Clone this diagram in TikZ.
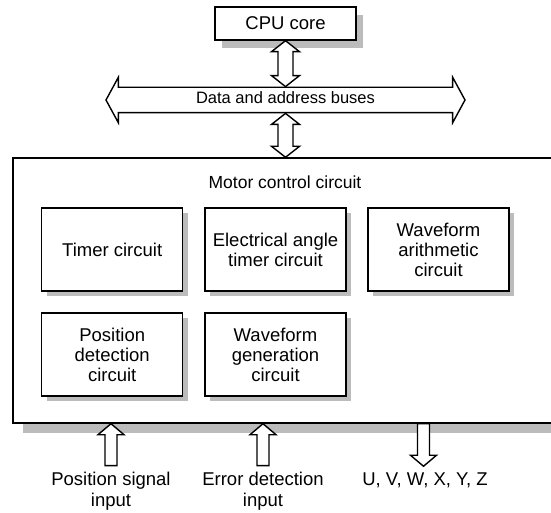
\documentclass[tikz,border=0pt]{standalone}
\usepackage{fontspec}
\setmainfont{Liberation Sans}
\usetikzlibrary{calc,shadows,shapes.arrows,positioning}
\definecolor{shadegray}{RGB}{188,188,188}

\begin{document}
\begin{tikzpicture}[x=1pt, y=1pt,
  box/.style={draw, fill=white, line width=1.4pt, align=center, inner sep=0pt,
              font=\fontsize{18.5}{20}\selectfont},
  blk/.style={box, minimum width=141pt, minimum height=83pt,
              drop shadow={shadow xshift=5pt, shadow yshift=-5pt, fill=shadegray, opacity=1}},
  lbl/.style={align=center, inner sep=2pt, font=\fontsize{18.5}{21}\selectfont},
  % hollow block arrows, tip at the target
  fatone/.style={draw, fill=white, line width=1.4pt, to path={
      let \p1=(\tikztostart), \p2=(\tikztotarget), \n1={11*(\y1-\y2)/abs(\y1-\y2)} in
      (\x1-6,\y1) -- (\x1-6,\y2+\n1) -- (\x1-13,\y2+\n1) -- (\x1,\y2)
      -- (\x1+13,\y2+\n1) -- (\x1+6,\y2+\n1) -- (\x1+6,\y1) -- cycle}},
  fattwo/.style={draw, fill=white, line width=1.4pt, to path={
      let \p1=(\tikztostart), \p2=(\tikztotarget), \n1={11*(\y1-\y2)/abs(\y1-\y2)} in
      (\x1,\y1) -- (\x1+14,\y1-\n1) -- (\x1+7.5,\y1-\n1) -- (\x1+7.5,\y2+\n1)
      -- (\x1+14,\y2+\n1) -- (\x1,\y2) -- (\x1-14,\y2+\n1) -- (\x1-7.5,\y2+\n1)
      -- (\x1-7.5,\y1-\n1) -- (\x1-14,\y1-\n1) -- cycle}}
]
\useasboundingbox (0,0) rectangle (551,512);

\node[box, minimum width=141pt, minimum height=33pt,
      drop shadow={shadow xshift=7pt, shadow yshift=-8pt, fill=shadegray, opacity=1}]
      (cpu) at (285.5,488.5) {CPU core};
\node[draw, fill=white, line width=1.4pt, double arrow, double arrow head extend=10pt,
      double arrow tip angle=123, minimum height=359pt, inner xsep=0pt, inner ysep=4pt,
      text height=12pt, text depth=4pt, font=\fontsize{16.5}{19}\selectfont]
      (bus) at (285.5,412) {Data and address buses};

\node[box, minimum width=557pt, minimum height=265pt,
      drop shadow={shadow xshift=10pt, shadow yshift=-10pt, fill=shadegray, opacity=1}]
      (motor) at (291.5,221.5) {};
\node[lbl, font=\fontsize{17.5}{20}\selectfont] (title) at (285,330) {Motor control circuit};

\node[blk] (timer)   at (112.2,262.6) {Timer circuit};
\node[blk] (elangle) at (275.5,262.6) {Electrical angle\\ timer circuit};
\node[blk] (arith)   at (438.5,262.6) {Waveform\\ arithmetic\\ circuit};
\node[blk] (posdet)  at (112.2,157.6) {Position\\ detection\\ circuit};
\node[blk] (wavegen) at (275.5,157.6) {Waveform\\ generation\\ circuit};

\node[lbl] (possig) at (111,21)   {Position signal\\ input};
\node[lbl] (errdet) at (263,21)   {Error detection\\ input};
\node[lbl] (uvw)    at (425,32)   {U, V, W, X, Y, Z};

\draw[fattwo] (cpu.south) to (bus.north);
\draw[fattwo] (bus.south) to (motor.north);
\draw[fatone] ([yshift=4pt]possig.north) to (possig.north |- motor.south);
\draw[fatone] ([yshift=4pt]errdet.north) to (errdet.north |- motor.south);
\draw[fatone] ([xshift=-1.5pt]uvw.north |- motor.south) to ([xshift=-1.5pt,yshift=4pt]uvw.north);
\end{tikzpicture}
\end{document}
